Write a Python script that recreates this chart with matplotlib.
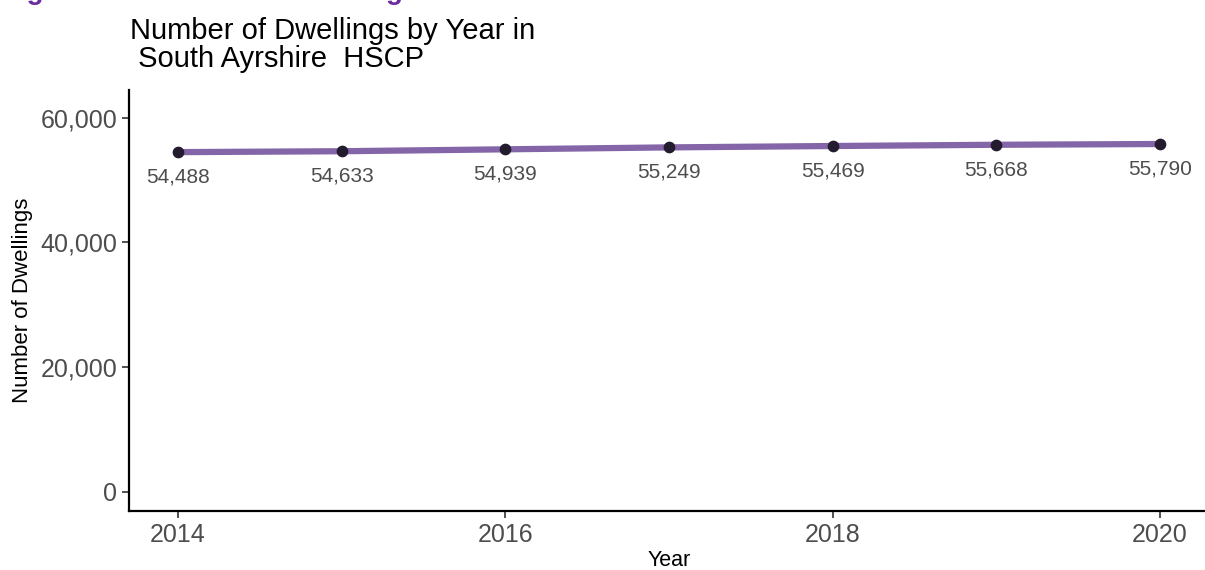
import numpy as np
import matplotlib
matplotlib.use("Agg")
import matplotlib.pyplot as plt
from matplotlib.ticker import FuncFormatter

plt.rcParams['font.family'] = ['Liberation Sans', 'DejaVu Sans']

years = [2014, 2015, 2016, 2017, 2018, 2019, 2020]
dwellings = [54488, 54633, 54939, 55249, 55469, 55668, 55790]
y_ticks = [0, 20000, 40000, 60000]
x_ticks = [2014, 2016, 2018, 2020]

W, H = 1205, 570
fig = plt.figure(figsize=(W / 100, H / 100), dpi=100)
# axes frame in pixel coords: left 129, right ~1209 (cropped), top 90, bottom 511
ax = fig.add_axes([129 / W, (H - 511) / H, (1209 - 129) / W, (511 - 90) / H])

ax.plot(years, dwellings, color='#8466a8', lw=4.5, solid_capstyle='round', zorder=2)
ax.scatter(years, dwellings, s=55, color='#231b2e', zorder=3)
for x, y in zip(years, dwellings):
    ax.annotate(f"{y:,}", (x, y), xytext=(0, -11), textcoords='offset points',
                ha='center', va='top', fontsize=15, color='#4d4d4d')

ax.set_xlim(2013.7, 2020.3)
ax.set_ylim(-3050, 64450)
ax.set_xticks(x_ticks)
ax.set_yticks(y_ticks)
ax.yaxis.set_major_formatter(FuncFormatter(lambda v, p: f"{int(v):,}"))
ax.tick_params(labelsize=18, colors='#4d4d4d', length=5, width=1.2)
ax.tick_params(axis='both', color='#333333')
for s in ['top', 'right']:
    ax.spines[s].set_visible(False)
for s in ['left', 'bottom']:
    ax.spines[s].set_linewidth(1.6)
    ax.spines[s].set_color('black')

ax.set_xlabel('Year', fontsize=15.5, labelpad=2)
ax.set_ylabel('Number of Dwellings', fontsize=16, labelpad=5)

fig.text(130 / W, 1 - 17 / H, 'Number of Dwellings by Year in\n South Ayrshire  HSCP',
         fontsize=21, ha='left', va='top', linespacing=0.98)

# figure caption cut off at the top edge (only descenders visible)
fig.text(2 / W, 1 + 1 / H, 'Figure 25: Number of Dwellings',
         fontsize=20, fontweight='bold', color='#6a2c9e', ha='left', va='baseline')

fig.savefig('out.png', dpi=100)
